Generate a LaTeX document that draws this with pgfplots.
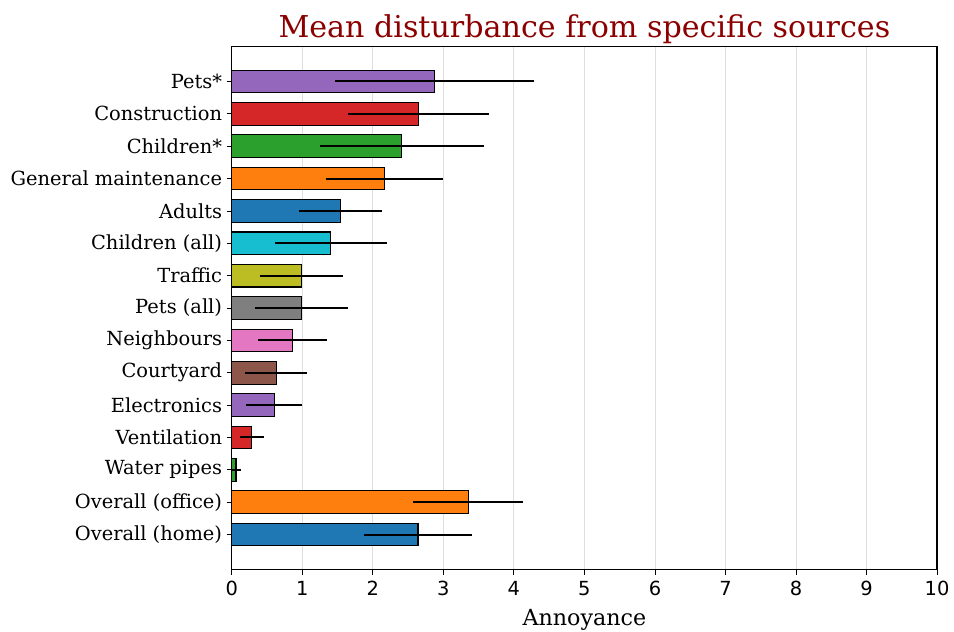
\documentclass[border=0pt]{standalone}
\usepackage{fontspec}
\setmainfont{DejaVu Serif}
\newfontfamily\ticksans{DejaVu Sans}
\usepackage{pgfplots}
\pgfplotsset{compat=1.18}
\definecolor{tabblue}{HTML}{1F77B4}
\definecolor{taborange}{HTML}{FF7F0E}
\definecolor{tabgreen}{HTML}{2CA02C}
\definecolor{tabred}{HTML}{D62728}
\definecolor{tabpurple}{HTML}{9467BD}
\definecolor{tabbrown}{HTML}{8C564B}
\definecolor{tabpink}{HTML}{E377C2}
\definecolor{tabgray}{HTML}{7F7F7F}
\definecolor{tabolive}{HTML}{BCBD22}
\definecolor{tabcyan}{HTML}{17BECF}
\definecolor{titlered}{HTML}{8B0000}
\begin{document}
\begin{tikzpicture}
\path (-167pt,-44.6pt) rectangle (519.8pt,410.4pt);
\begin{axis}[
  scale only axis,
  width=508pt, height=377pt,
  xmin=0, xmax=10,
  ymin=-1.085, ymax=15.085,
  xbar, bar shift=0pt, bar width=0.7,
  xtick={0,...,10},
  ytick={0,...,14},
  xtick pos=bottom, ytick pos=left,
  yticklabels={Overall (home),Overall (office),Water pipes,Ventilation,Electronics,Courtyard,Neighbours,Pets (all),Traffic,Children (all),Adults,General maintenance,Children*,Construction,Pets*},
  xmajorgrids, grid style={black!13, line width=0.6pt},
  tick align=outside, major tick length=3.5pt,
  tick style={black, line width=0.6pt},
  axis line style={black, line width=0.8pt},
  xticklabel style={font=\ticksans\fontsize{14}{16}\selectfont, yshift=-1pt},
  /pgf/number format/assume math mode=true,
  yticklabel style={font=\fontsize{14}{16}\selectfont},
  xlabel={Annoyance},
  xlabel style={font=\fontsize{16}{18}\selectfont, at={(0.5,0)}, anchor=base, inner sep=0pt, yshift=-40pt},
  title={Mean disturbance from specific sources},
  title style={font=\fontsize{21.7}{26}\selectfont, text=titlered, at={(0.5,1)}, anchor=base, inner sep=0pt, yshift=0.7pt},
  every axis plot/.append style={draw=black, line width=0.8pt,
    error bars/x dir=both, error bars/x explicit, error bars/error mark=none,
    error bars/error bar style={black, line width=1.45pt}},
]
\addplot[fill=tabblue] coordinates {(2.64,0) +- (0.77,0)};
\addplot[fill=taborange] coordinates {(3.35,1) +- (0.78,0)};
\addplot[fill=tabgreen] coordinates {(0.06,2) +- (0.07,0)};
\addplot[fill=tabred] coordinates {(0.28,3) +- (0.17,0)};
\addplot[fill=tabpurple] coordinates {(0.60,4) +- (0.40,0)};
\addplot[fill=tabbrown] coordinates {(0.63,5) +- (0.44,0)};
\addplot[fill=tabpink] coordinates {(0.86,6) +- (0.485,0)};
\addplot[fill=tabgray] coordinates {(0.99,7) +- (0.66,0)};
\addplot[fill=tabolive] coordinates {(0.99,8) +- (0.59,0)};
\addplot[fill=tabcyan] coordinates {(1.405,9) +- (0.79,0)};
\addplot[fill=tabblue] coordinates {(1.54,10) +- (0.59,0)};
\addplot[fill=taborange] coordinates {(2.16,11) +- (0.83,0)};
\addplot[fill=tabgreen] coordinates {(2.41,12) +- (1.16,0)};
\addplot[fill=tabred] coordinates {(2.65,13) +- (1.00,0)};
\addplot[fill=tabpurple] coordinates {(2.87,14) +- (1.41,0)};
\end{axis}
\end{tikzpicture}
\end{document}
